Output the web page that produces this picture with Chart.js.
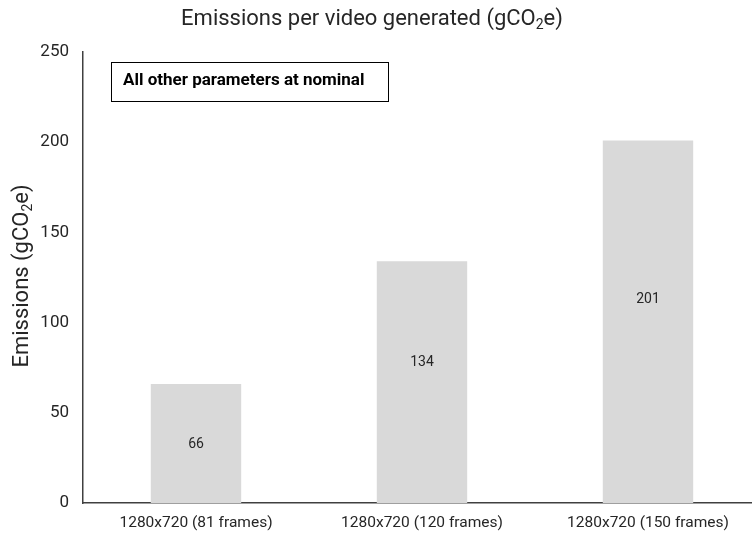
<!DOCTYPE html>
<html>
<head>
<meta charset="utf-8">
<script src="https://cdn.jsdelivr.net/npm/chart.js@4/dist/chart.umd.min.js"></script>
<style>
  html, body { margin: 0; padding: 0; background: #ffffff; overflow: hidden; }
  #wrap { width: 770px; height: 536px; }
</style>
</head>
<body>
<div id="wrap"><canvas id="c" width="770" height="536"></canvas></div>
<script>
// Emissions per generated video, by resolution and frame count
const categories = ['1280x720 (81 frames)', '1280x720 (120 frames)', '1280x720 (150 frames)'];
const emissions = [66, 134, 201];
const yTicks = [0, 50, 100, 150, 200, 250];

const FONT = 'Roboto, "Noto Sans", sans-serif';
const TEXT = '#262626';
// vertical placement of each value label, as a share of its bar's height
const labelAt = [0.49, 0.58, 0.56];

// Draws text centred on the origin with a subscript between two parts
function drawSubText(ctx, before, sub, after, size) {
  const subSize = Math.round(size * 0.65);
  ctx.font = size + 'px ' + FONT;
  const w1 = ctx.measureText(before).width;
  ctx.font = subSize + 'px ' + FONT;
  const w2 = ctx.measureText(sub).width;
  ctx.font = size + 'px ' + FONT;
  const w3 = ctx.measureText(after).width;
  let x = -(w1 + w2 + w3) / 2;
  ctx.textAlign = 'left';
  ctx.textBaseline = 'middle';
  ctx.fillText(before, x, 0);
  x += w1;
  ctx.font = subSize + 'px ' + FONT;
  ctx.fillText(sub, x, size * 0.3);
  x += w2;
  ctx.font = size + 'px ' + FONT;
  ctx.fillText(after, x, 0);
}

const decorations = {
  id: 'decorations',
  afterDraw(chart) {
    const ctx = chart.ctx;
    const yScale = chart.scales.y;
    ctx.save();
    ctx.fillStyle = TEXT;
    // chart title
    ctx.save();
    ctx.translate(372, 19);
    drawSubText(ctx, 'Emissions per video generated (gCO', '2', 'e)', 22);
    ctx.restore();
    // y axis title
    ctx.save();
    ctx.translate(22, 276);
    ctx.rotate(-Math.PI / 2);
    drawSubText(ctx, 'Emissions (gCO', '2', 'e)', 22);
    ctx.restore();
    // note box
    ctx.strokeStyle = '#000000';
    ctx.lineWidth = 1;
    ctx.strokeRect(111.5, 62.5, 277, 39);
    ctx.font = 'bold 17px ' + FONT;
    ctx.textAlign = 'left';
    ctx.textBaseline = 'middle';
    ctx.fillStyle = '#000000';
    ctx.fillText('All other parameters at nominal', 123, 81);
    // value labels inside each bar
    const meta = chart.getDatasetMeta(0);
    ctx.font = '14px ' + FONT;
    ctx.textAlign = 'center';
    ctx.fillStyle = TEXT;
    meta.data.forEach((bar, i) => {
      const y = yScale.getPixelForValue(emissions[i] * labelAt[i]);
      ctx.fillText(String(emissions[i]), bar.x, y);
    });
    ctx.restore();
  }
};

new Chart(document.getElementById('c'), {
  type: 'bar',
  data: {
    labels: categories,
    datasets: [{
      data: emissions,
      backgroundColor: '#d9d9d9',
      borderWidth: 0,
      barPercentage: 0.4,
      categoryPercentage: 1.0
    }]
  },
  options: {
    responsive: false,
    animation: false,
    layout: { padding: { top: 52, right: 9, bottom: 0, left: 0 } },
    plugins: {
      legend: { display: false },
      tooltip: { enabled: false },
      title: { display: false }
    },
    scales: {
      x: {
        grid: { display: false, drawTicks: false },
        border: { color: '#404040', width: 1.5 },
        ticks: { color: TEXT, font: { family: FONT, size: 15.5 }, padding: 11, maxRotation: 0 },
        afterFit(scale) { scale.height = 33; }
      },
      y: {
        min: 0,
        max: 250,
        afterBuildTicks(scale) { scale.ticks = yTicks.map(v => ({ value: v })); },
        grid: { display: false, drawTicks: false },
        border: { color: '#404040', width: 1.5 },
        ticks: { color: TEXT, font: { family: FONT, size: 17 }, padding: 14 },
        afterFit(scale) { scale.width = 83; }
      }
    }
  },
  plugins: [decorations]
});
</script>
</body>
</html>
